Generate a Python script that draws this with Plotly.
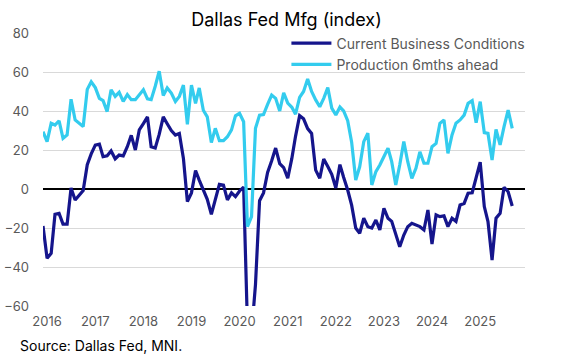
import pandas as pd
import plotly.graph_objects as go

# Monthly data, Dec 2015 .. Sep 2025
start_month = "2015-12-01"

current_business = [
    -19, -35.5, -33, -13, -12.5, -18, -18, 0.5, -5.6, -3, -0.8, 12.5, 18,      # Dec15-Dec16
    22.5, 23, 16.6, 17, 19.5, 15.5, 17.4, 17, 21.7, 27.5, 20, 30.3,            # 2017
    33.5, 37, 21.7, 21, 28, 37, 33.5, 30, 27.7, 28.5, 15.7, -6.5,              # 2018
    -2, 9.5, 4.6, 0, -5.3, -13, -5, 2.4, 2, -5.6, -2, -3.9,                    # 2019
    -1, 1, -70, -74, -49, -6, -2, 8.5, 14.5, 21, 13, 11,                       # 2020
    5.5, 15.7, 27, 37.6, 36, 31, 28.5, 9.7, 5.5, 15.4, 11.5, 7.5,              # 2021
    0.5, 12.5, 6, -0.5, -8.3, -20, -22.7, -15, -19.3, -20, -15.9, -21,         # 2022
    -9.9, -15, -16.6, -22.7, -29.6, -23.6, -19.3, -17.6, -18.5, -19.3, -21, -10.8,  # 2023
    -28.2, -13.3, -14.2, -13.8, -19.3, -15, -16.6, -8.2, -7.4, -2.2, -1.9, 6,  # 2024
    13.8, -9, -16.7, -36.4, -15, -12.5, 0.9, -1.4, -8.7,                       # 2025
]

production_6m = [
    29.4, 24.3, 33.7, 32.8, 35, 26, 27.7, 46, 35.4, 33.4, 32, 51.1, 55,        # Dec15-Dec16
    52, 46.5, 45.3, 39.7, 50.9, 47.5, 49.6, 44.9, 48.4, 45.8, 45.8, 48.4,      # 2017
    50.9, 46.2, 45.8, 52.7, 60.4, 47.9, 51.8, 49.2, 44.9, 47.5, 53.3, 33.2,    # 2018
    53.3, 43.9, 51.8, 40.4, 37, 23.8, 31.1, 24.8, 24.8, 26.8, 30.3, 37.5,      # 2019
    38.8, 34.5, -19.3, -14.2, 31.1, 37.9, 38.2, 43.4, 48.2, 46.5, 40, 49.3,    # 2020
    44, 41.9, 38.4, 47, 50, 56.4, 50, 45.7, 42.2, 46.5, 52, 41.5,              # 2021
    38, 42, 40, 35, 24, 4.6, 11.4, 24.3, 28.6, 2.1, 8.9, 12.3,                 # 2022
    16.5, 20.9, 14, 2.1, 12.3, 24.3, 14, 5.5, 10.6, 19.1, 13.2, 13.2,          # 2023
    21.7, 23.4, 33.7, 35.4, 18.3, 27.7, 33.7, 35.4, 37.9, 43.9, 45.3, 34,      # 2024
    44.8, 28.9, 28.5, 14.9, 30.6, 22.6, 32, 40.5, 31.1,                        # 2025
]

year_ticks = [str(y) for y in range(2016, 2026)]
y_ticks = [-60, -40, -20, 0, 20, 40, 60, 80]

dates = pd.date_range(start=start_month, periods=len(current_business), freq="MS")

DARK = "#15158C"
LIGHT = "#33CCEE"
FONT = "Inter"

fig = go.Figure()
fig.add_trace(go.Scatter(x=dates, y=current_business, mode="lines",
                         name="Current Business Conditions",
                         line=dict(color=DARK, width=3.2)))
fig.add_trace(go.Scatter(x=dates, y=production_6m, mode="lines",
                         name="Production 6mths ahead",
                         line=dict(color=LIGHT, width=3.2)))

fig.update_layout(
    width=565, height=356,
    margin=dict(l=43, r=40, t=33, b=50),
    paper_bgcolor="white", plot_bgcolor="white",
    font=dict(family=FONT, size=13, color="#595959"),
    title=dict(text="Dallas Fed Mfg (index)", x=0.507, xanchor="center",
               y=0.945, yanchor="middle",
               font=dict(family=FONT, size=18, color="black")),
    showlegend=True,
    legend=dict(x=0.505, y=1.02, xanchor="left", yanchor="top",
                bgcolor="rgba(0,0,0,0)", font=dict(size=14, color="#595959"),
                tracegroupgap=0, itemwidth=40),
    annotations=[dict(text="Source: Dallas Fed, MNI.", xref="paper", yref="paper",
                      x=-0.052, y=-0.145, xanchor="left", yanchor="middle",
                      showarrow=False, font=dict(family=FONT, size=14, color="black"))],
)

fig.update_xaxes(
    type="date",
    range=["2015-12-01", "2025-12-07"],
    tickvals=[pd.Timestamp(f"{y}-01-01") for y in year_ticks],
    ticktext=year_ticks,
    showgrid=False, showline=False, zeroline=False, ticks="",
    tickfont=dict(size=13, color="#595959"),
    ticklabelstandoff=6, automargin=False,
)
fig.update_yaxes(
    range=[-60, 80],
    tickvals=y_ticks,
    showgrid=True, gridcolor="#D9D9D9", gridwidth=1,
    zeroline=True, zerolinecolor="black", zerolinewidth=1.5,
    showline=False, ticks="",
    tickfont=dict(size=13, color="#595959"),
    ticklabelstandoff=13, automargin=False,
)

fig.write_html("out.html", config={"displayModeBar": False},
               post_script="document.body.style.margin='0';")
